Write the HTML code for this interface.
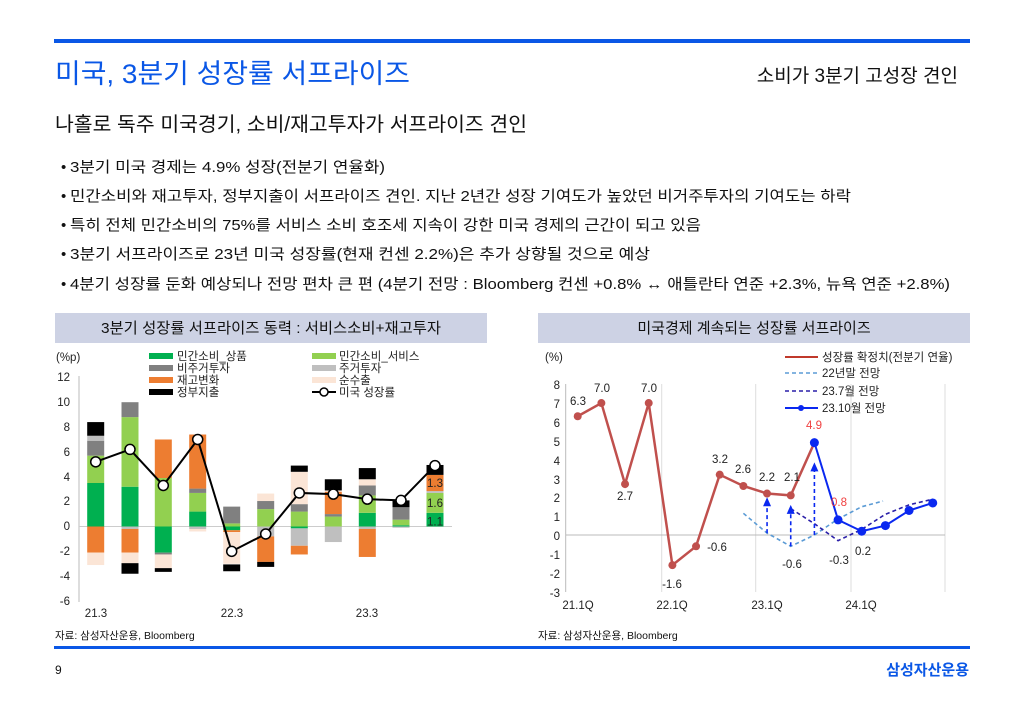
<!DOCTYPE html>
<html><head><meta charset="utf-8"><style>
html,body{margin:0;padding:0;background:#fff;}
svg{display:block;font-family:"Liberation Sans","Noto Sans CJK KR",sans-serif;}
</style></head><body>
<svg id="s" width="1024" height="709" viewBox="0 0 1024 709" xmlns="http://www.w3.org/2000/svg">
<rect x="54" y="39" width="916" height="4" fill="#0a57e6"/>
<text x="55" y="83" font-size="27" fill="#0a57e6" textLength="355" lengthAdjust="spacingAndGlyphs">미국, 3분기 성장률 서프라이즈</text>
<text x="958" y="82" font-size="19" fill="#111" text-anchor="end">소비가 3분기 고성장 견인</text>
<text x="55" y="131" font-size="20" fill="#111" textLength="472" lengthAdjust="spacingAndGlyphs">나홀로 독주 미국경기, 소비/재고투자가 서프라이즈 견인</text>
<g font-size="15" fill="#111">
<text x="61" y="172">•</text><text x="70" y="172" textLength="315" lengthAdjust="spacingAndGlyphs">3분기 미국 경제는 4.9% 성장(전분기 연율화)</text>
<text x="61" y="201">•</text><text x="70" y="201" textLength="781" lengthAdjust="spacingAndGlyphs">민간소비와 재고투자, 정부지출이 서프라이즈 견인. 지난 2년간 성장 기여도가 높았던 비거주투자의 기여도는 하락</text>
<text x="61" y="230">•</text><text x="70" y="230" textLength="631" lengthAdjust="spacingAndGlyphs">특히 전체 민간소비의 75%를 서비스 소비 호조세 지속이 강한 미국 경제의 근간이 되고 있음</text>
<text x="61" y="259">•</text><text x="70" y="259" textLength="580" lengthAdjust="spacingAndGlyphs">3분기 서프라이즈로 23년 미국 성장률(현재 컨센 2.2%)은 추가 상향될 것으로 예상</text>
<text x="61" y="289">•</text><text x="70" y="289" textLength="880" lengthAdjust="spacingAndGlyphs">4분기 성장률 둔화 예상되나 전망 편차 큰 편 (4분기 전망 : Bloomberg 컨센 +0.8% ↔ 애틀란타 연준 +2.3%, 뉴욕 연준 +2.8%)</text>
</g>
<rect x="55" y="313" width="432" height="30" fill="#cdd2e4"/>
<text x="271" y="333" font-size="15" fill="#111" text-anchor="middle" textLength="340" lengthAdjust="spacingAndGlyphs">3분기 성장률 서프라이즈 동력 : 서비스소비+재고투자</text>
<rect x="538" y="313" width="432" height="30" fill="#cdd2e4"/>
<text x="754" y="333" font-size="15" fill="#111" text-anchor="middle">미국경제 계속되는 성장률 서프라이즈</text>

<!-- left chart -->
<g font-size="11.5" fill="#222">
<text x="56" y="361">(%p)</text>
<g text-anchor="end">
<text x="70" y="381">12</text><text x="70" y="406">10</text><text x="70" y="431">8</text><text x="70" y="456">6</text><text x="70" y="481">4</text><text x="70" y="505">2</text><text x="70" y="530">0</text><text x="70" y="555">-2</text><text x="70" y="580">-4</text><text x="70" y="605">-6</text>
</g>
<g text-anchor="middle"><text x="96" y="617">21.3</text><text x="232" y="617">22.3</text><text x="367" y="617">23.3</text></g>
</g>
<line x1="79" y1="376" x2="79" y2="602" stroke="#bbb"/>
<line x1="79" y1="526.5" x2="452" y2="526.5" stroke="#ccc"/>
<g id="lbars"></g>
<g font-size="11.5" fill="#222">
<rect x="149" y="353" width="24" height="6" fill="#00b050"/><text x="177" y="360">민간소비_상품</text>
<rect x="149" y="365" width="24" height="6" fill="#808080"/><text x="177" y="372">비주거투자</text>
<rect x="149" y="377" width="24" height="6" fill="#ed7d31"/><text x="177" y="384">재고변화</text>
<rect x="149" y="389" width="24" height="6" fill="#000"/><text x="177" y="396">정부지출</text>
<rect x="312" y="353" width="24" height="6" fill="#92d050"/><text x="339" y="360">민간소비_서비스</text>
<rect x="312" y="365" width="24" height="6" fill="#bfbfbf"/><text x="339" y="372">주거투자</text>
<rect x="312" y="377" width="24" height="6" fill="#fbe5d6"/><text x="339" y="384">순수출</text>
<line x1="312" y1="392" x2="336" y2="392" stroke="#000" stroke-width="2"/><circle cx="324" cy="392" r="4" fill="#fff" stroke="#000" stroke-width="1.5"/><text x="339" y="396">미국 성장률</text>
</g>

<!-- right chart -->
<g font-size="11.5" fill="#222">
<text x="545" y="361">(%)</text>
<g text-anchor="end">
<text x="560" y="389">8</text><text x="560" y="408">7</text><text x="560" y="427">6</text><text x="560" y="446">5</text><text x="560" y="465">4</text><text x="560" y="484">3</text><text x="560" y="502">2</text><text x="560" y="521">1</text><text x="560" y="540">0</text><text x="560" y="559">-1</text><text x="560" y="578">-2</text><text x="560" y="597">-3</text>
</g>
<g text-anchor="middle"><text x="578" y="609">21.1Q</text><text x="672" y="609">22.1Q</text><text x="767" y="609">23.1Q</text><text x="861" y="609">24.1Q</text></g>
</g>
<g stroke="#ddd"><line x1="661.7" y1="384" x2="661.7" y2="592"/><line x1="755.7" y1="384" x2="755.7" y2="592"/><line x1="851" y1="384" x2="851" y2="592"/><line x1="945" y1="384" x2="945" y2="592"/></g>
<line x1="565.7" y1="384" x2="565.7" y2="592" stroke="#bbb"/>
<line x1="565.7" y1="535" x2="945" y2="535" stroke="#bbb"/>
<g id="rlines"></g>
<g font-size="11.5" fill="#222" text-anchor="middle">
<text x="578" y="405">6.3</text><text x="602" y="392">7.0</text><text x="625" y="500">2.7</text><text x="649" y="392">7.0</text>
<text x="672" y="588">-1.6</text><text x="717" y="551">-0.6</text><text x="720" y="463">3.2</text><text x="743" y="473">2.6</text>
<text x="767" y="481">2.2</text><text x="792" y="481">2.1</text><text x="792" y="568">-0.6</text>
<text x="814" y="429" fill="#f04040">4.9</text><text x="839" y="506" fill="#f04040">0.8</text>
<text x="839" y="564">-0.3</text><text x="863" y="555">0.2</text>
</g>
<g font-size="11.5" fill="#222">
<line x1="785" y1="357" x2="818" y2="357" stroke="#c0392b" stroke-width="2"/><text x="822" y="361">성장률 확정치(전분기 연율)</text>
<line x1="785" y1="373" x2="818" y2="373" stroke="#5b9bd5" stroke-width="1.5" stroke-dasharray="4,3"/><text x="822" y="377">22년말 전망</text>
<line x1="785" y1="391" x2="818" y2="391" stroke="#2a1fa8" stroke-width="1.5" stroke-dasharray="4,3"/><text x="822" y="395">23.7월 전망</text>
<line x1="785" y1="408" x2="818" y2="408" stroke="#0a28f0" stroke-width="2"/><circle cx="801" cy="408" r="3" fill="#0a28f0"/><text x="822" y="412">23.10월 전망</text>
</g>

<text x="55" y="639" font-size="10.5" fill="#111">자료: 삼성자산운용, Bloomberg</text>
<text x="538" y="639" font-size="10.5" fill="#111">자료: 삼성자산운용, Bloomberg</text>
<rect x="54" y="646" width="916" height="3" fill="#0a57e6"/>
<text x="55" y="674" font-size="12" fill="#111">9</text>
<text x="969" y="675" font-size="15" font-weight="bold" fill="#0a57e6" text-anchor="end">삼성자산운용</text>
</svg>
<script>
var NS="http://www.w3.org/2000/svg";
function el(p,t,a){var e=document.createElementNS(NS,t);for(var k in a)e.setAttribute(k,a[k]);p.appendChild(e);return e;}
var G="#00b050",LG="#92d050",DG="#808080",GR="#bfbfbf",O="#ed7d31",P="#fbe5d6",K="#000";
var xs=[95.7,130,163.3,197.7,231.7,265.7,299.3,333.3,367.3,401,435];
function Y(v){return 526.5-12.43*v;}
var bars=[
[[G,0,3.5],[LG,3.5,5.7],[DG,5.7,6.9],[GR,6.9,7.3],[K,7.3,8.4],[O,0,-2.1],[P,-2.1,-3.1]],
[[G,0,3.2],[LG,3.2,8.8],[DG,8.8,10],[GR,0,-0.2],[O,-0.2,-2.1],[P,-2.1,-2.95],[K,-2.95,-3.8]],
[[LG,0,3.9],[O,3.9,7.0],[G,0,-2.1],[DG,-2.1,-2.25],[P,-2.25,-3.35],[K,-3.35,-3.65]],
[[G,0,1.2],[LG,1.2,2.7],[DG,2.7,3.05],[O,3.05,7.4],[GR,0,-0.2],[P,-0.2,-0.4]],
[[LG,0,0.25],[DG,0.25,1.6],[G,0,-0.3],[O,-0.3,-0.45],[P,-0.45,-3.0],[K,-3.05,-3.6]],
[[LG,0,1.4],[DG,1.4,2.05],[P,2.05,2.65],[GR,0,-0.8],[O,-0.8,-2.85],[K,-2.85,-3.25]],
[[LG,0,1.2],[DG,1.2,1.8],[P,1.8,4.4],[K,4.4,4.9],[G,0,-0.15],[GR,-0.15,-1.55],[O,-1.55,-2.25]],
[[LG,0,0.8],[DG,0.8,1.0],[O,1.0,2.8],[P,2.8,2.9],[K,2.9,3.8],[GR,0,-1.25]],
[[G,0,1.1],[LG,1.1,2.5],[DG,2.5,3.3],[P,3.3,3.8],[K,3.8,4.7],[GR,0,-0.2],[O,-0.2,-2.45]],
[[G,0,0.1],[LG,0.1,0.55],[DG,0.55,1.55],[K,1.55,2.1],[GR,0,-0.1]],
[[G,0,1.1],[LG,1.1,2.7],[GR,2.7,2.85],[O,2.85,4.15],[K,4.15,4.95]]];
var lb=document.getElementById("lbars");
bars.forEach(function(b,i){b.forEach(function(s){var a=Y(Math.max(s[1],s[2])),c=Y(Math.min(s[1],s[2]));el(lb,"rect",{x:xs[i]-8.5,y:a,width:17,height:c-a,fill:s[0]});});});
var lv=[5.2,6.2,3.3,7.0,-2.0,-0.6,2.7,2.6,2.2,2.1,4.9];
el(lb,"polyline",{points:lv.map(function(v,i){return xs[i]+","+Y(v);}).join(" "),fill:"none",stroke:"#000","stroke-width":2});
lv.forEach(function(v,i){el(lb,"circle",{cx:xs[i],cy:Y(v),r:5,fill:"#fff",stroke:"#000","stroke-width":1.5});});
[["1.3",4.1-0.6],["1.6",1.9],["1.1",0.4]].forEach(function(t){var e=el(lb,"text",{x:435,y:Y(t[1])+4,"text-anchor":"middle","font-size":"11.5",fill:"#222"});e.textContent=t[0];});
// right
function X(i){return 577.7+23.67*i;}function R(v){return 535-18.85*v;}
function pts(a){return a.map(function(p){return X(p[0])+","+R(p[1]);}).join(" ");}
var rl=document.getElementById("rlines");
el(rl,"polyline",{points:pts([[7,1.15],[8,0.1],[9,-0.6],[10,0],[11,0.85],[12,1.5],[12.9,1.8]]),fill:"none",stroke:"#5b9bd5","stroke-width":1.6,"stroke-dasharray":"4,3"});
el(rl,"polyline",{points:pts([[9,1.4],[10,0.6],[11,-0.3],[12,0.3],[13,1.1],[14,1.6],[15,1.9]]),fill:"none",stroke:"#2a1fa8","stroke-width":1.6,"stroke-dasharray":"4,3"});
[[8,0.1,2.0],[9,-0.6,1.6],[10,0,3.85]].forEach(function(a){var x=X(a[0]);el(rl,"line",{x1:x,y1:R(a[1]),x2:x,y2:R(a[2])+8,stroke:"#0a28f0","stroke-width":1.6,"stroke-dasharray":"4,3"});el(rl,"polygon",{points:(x-4)+","+(R(a[2])+9)+" "+(x+4)+","+(R(a[2])+9)+" "+x+","+R(a[2]),fill:"#0a28f0"});});
var red=[6.3,7.0,2.7,7.0,-1.6,-0.6,3.2,2.6,2.2,2.1,4.9];
el(rl,"polyline",{points:pts(red.map(function(v,i){return [i,v];})),fill:"none",stroke:"#c0504d","stroke-width":2.5});
red.slice(0,10).forEach(function(v,i){el(rl,"circle",{cx:X(i),cy:R(v),r:4,fill:"#c0504d"});});
var bl=[[10,4.9],[11,0.8],[12,0.2],[13,0.5],[14,1.3],[15,1.7]];
el(rl,"polyline",{points:pts(bl),fill:"none",stroke:"#0a28f0","stroke-width":2});
bl.forEach(function(p){el(rl,"circle",{cx:X(p[0]),cy:R(p[1]),r:4.5,fill:"#0a28f0"});});
</script>
</body></html>
